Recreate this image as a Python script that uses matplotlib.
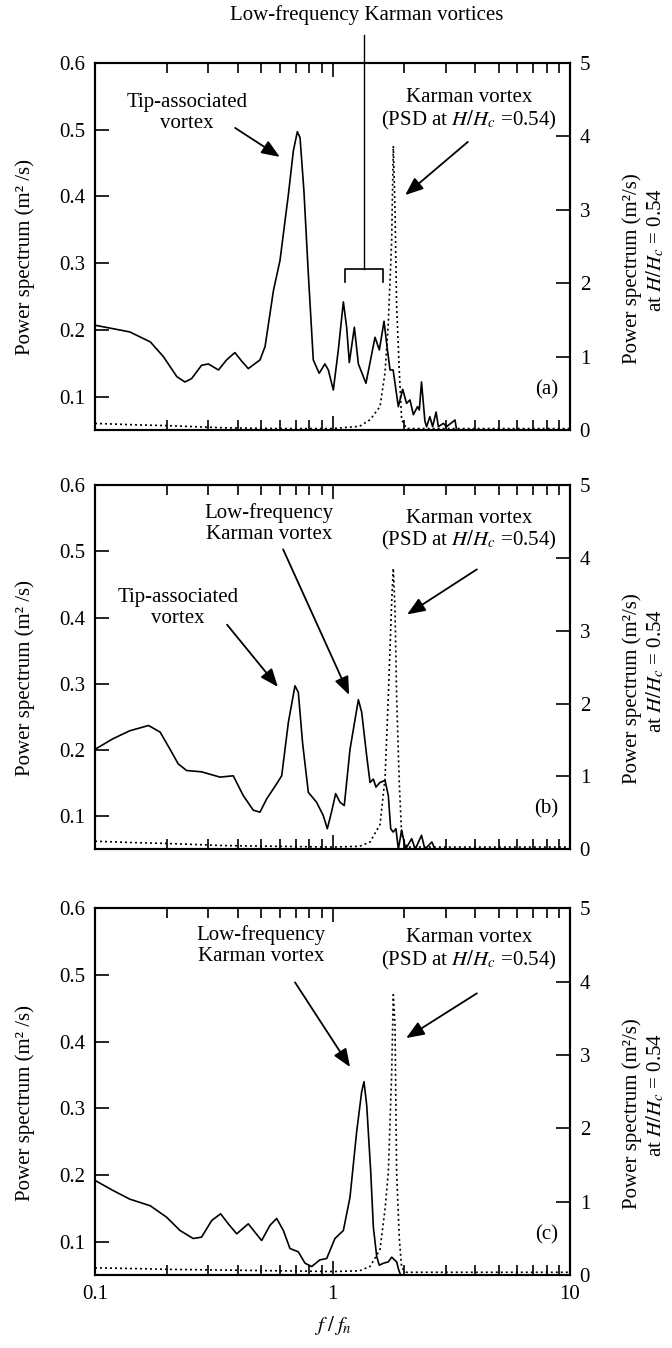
import matplotlib.pyplot as plt

plt.rcParams['font.family'] = ['Liberation Serif', 'DejaVu Serif']
plt.rcParams['mathtext.fontset'] = 'stix'
plt.rcParams['font.size'] = 15

# Panel (a): measured spectrum (left axis)
fa = [0.100, 0.140, 0.171, 0.194, 0.221, 0.239, 0.255, 0.281, 0.300, 0.331,
      0.358, 0.388, 0.415, 0.442, 0.495, 0.520, 0.564, 0.601, 0.652, 0.684,
      0.711, 0.730, 0.758, 0.791, 0.830, 0.879, 0.929, 0.960, 1.008, 1.058,
      1.111, 1.147, 1.177, 1.236, 1.285, 1.383, 1.510, 1.575, 1.648, 1.703,
      1.747, 1.800, 1.893, 1.975, 2.050, 2.120, 2.190, 2.280, 2.320, 2.370,
      2.450, 2.490, 2.570, 2.640, 2.730, 2.790, 2.930, 3.020, 3.280, 3.330]
pa = [0.207, 0.197, 0.182, 0.160, 0.130, 0.122, 0.127, 0.147, 0.149, 0.140,
      0.155, 0.166, 0.153, 0.142, 0.155, 0.175, 0.259, 0.304, 0.403, 0.468,
      0.497, 0.488, 0.408, 0.284, 0.155, 0.135, 0.149, 0.140, 0.110, 0.170,
      0.242, 0.204, 0.151, 0.204, 0.149, 0.120, 0.189, 0.170, 0.213, 0.170,
      0.140, 0.140, 0.085, 0.111, 0.090, 0.095, 0.073, 0.085, 0.080, 0.122,
      0.063, 0.055, 0.070, 0.055, 0.077, 0.055, 0.060, 0.055, 0.065, 0.050]

# Panel (b)
fb = [0.100, 0.119, 0.140, 0.168, 0.188, 0.207, 0.224, 0.243, 0.281, 0.336,
      0.382, 0.421, 0.464, 0.495, 0.528, 0.582, 0.611, 0.652, 0.695, 0.718,
      0.748, 0.791, 0.857, 0.914, 0.951, 0.990, 1.031, 1.075, 1.121, 1.185,
      1.285, 1.327, 1.393, 1.439, 1.486, 1.524, 1.585, 1.664, 1.718, 1.758,
      1.800, 1.850, 1.893, 1.955, 2.030, 2.155, 2.230, 2.370, 2.450, 2.620,
      2.700, 2.820]
pb = [0.201, 0.217, 0.229, 0.237, 0.227, 0.201, 0.179, 0.169, 0.167, 0.159,
      0.161, 0.131, 0.109, 0.106, 0.126, 0.149, 0.161, 0.242, 0.297, 0.287,
      0.211, 0.136, 0.121, 0.101, 0.081, 0.106, 0.134, 0.121, 0.116, 0.201,
      0.276, 0.257, 0.191, 0.151, 0.156, 0.144, 0.151, 0.154, 0.131, 0.081,
      0.076, 0.081, 0.050, 0.079, 0.050, 0.066, 0.050, 0.071, 0.050, 0.061,
      0.050, 0.050]

# Panel (c)
fc = [0.100, 0.119, 0.140, 0.171, 0.200, 0.228, 0.259, 0.281, 0.310, 0.338,
      0.364, 0.395, 0.442, 0.470, 0.503, 0.546, 0.582, 0.621, 0.662, 0.718,
      0.766, 0.817, 0.885, 0.945, 1.024, 1.111, 1.185, 1.264, 1.327, 1.357,
      1.393, 1.448, 1.486, 1.535, 1.574, 1.640, 1.718, 1.775, 1.862, 1.900,
      1.936, 2.050, 3.000]
pc = [0.192, 0.177, 0.164, 0.154, 0.137, 0.117, 0.105, 0.107, 0.132, 0.142,
      0.127, 0.112, 0.127, 0.115, 0.102, 0.125, 0.135, 0.117, 0.090, 0.085,
      0.068, 0.063, 0.073, 0.075, 0.105, 0.117, 0.167, 0.265, 0.325, 0.340,
      0.305, 0.206, 0.122, 0.078, 0.065, 0.068, 0.070, 0.077, 0.070, 0.058,
      0.050, 0.050, 0.050]

# Karman vortex PSD at H/Hc = 0.54 (right axis)
fk = [0.100, 0.150, 0.200, 0.350, 0.600, 1.000, 1.300, 1.440, 1.585, 1.664,
      1.718, 1.775, 1.803, 1.833, 1.862, 1.911, 1.955, 2.050, 3.000, 10.00]
pk_a = [0.09, 0.07, 0.06, 0.03, 0.02, 0.02, 0.05, 0.14, 0.32, 0.78,
        1.46, 2.59, 3.87, 3.00, 1.70, 0.80, 0.14, 0.02, 0.02, 0.02]
pk_b = [0.11, 0.09, 0.08, 0.05, 0.04, 0.03, 0.04, 0.10, 0.34, 0.97,
        2.10, 3.40, 3.86, 3.30, 2.10, 0.90, 0.20, 0.03, 0.03, 0.03]
pk_c = [0.10, 0.09, 0.08, 0.07, 0.06, 0.05, 0.06, 0.12, 0.35, 0.90,
        1.40, 2.76, 3.82, 3.40, 1.40, 0.50, 0.10, 0.04, 0.04, 0.04]

panels = [(fa, pa, pk_a, '(a)'), (fb, pb, pk_b, '(b)'), (fc, pc, pk_c, '(c)')]
rects = [(0.1414, 0.681, 0.7068, 0.2723),
         (0.1414, 0.370, 0.7068, 0.2700),
         (0.1414, 0.054, 0.7068, 0.2723)]

fig = plt.figure(figsize=(6.72, 13.48), dpi=100)
axes = []
for i, ((f, p, pk, tag), rect) in enumerate(zip(panels, rects)):
    ax = fig.add_axes(rect)
    ax.plot(f, p, color='black', lw=1.2)
    ax.set_xscale('log')
    ax.set_xlim(0.1, 10)
    ax.set_ylim(0.05, 0.6)
    ax.set_yticks([0.1, 0.2, 0.3, 0.4, 0.5, 0.6])
    ax.set_yticklabels(['0.1', '0.2', '0.3', '0.4', '0.5', '0.6'])
    ax.tick_params(which='major', direction='in', top=True, length=10, width=1.2,
                   labelsize=15, pad=7)
    ax.tick_params(which='minor', direction='in', top=True, length=7, width=1.2)
    ax.tick_params(axis='x', which='minor', labelbottom=False)
    if i < 2:
        ax.tick_params(axis='x', which='both', labelbottom=False)
    else:
        ax.set_xticks([0.1, 1, 10])
        ax.set_xticklabels(['0.1', '1', '10'])
        ax.set_xlabel('$f\\;/\\;f_n$', fontsize=15, labelpad=7)
    ax.text(-0.148, 0.47, 'Power spectrum (m² /s)', transform=ax.transAxes,
            rotation=90, ha='center', va='center')

    ax2 = ax.twinx()
    ax2.plot(fk, pk, color='black', lw=1.2, linestyle=(0, (1.2, 1.8)))
    ax2.set_ylim(0, 5)
    ax2.set_yticks([0, 1, 2, 3, 4, 5])
    ax2.tick_params(direction='in', length=10, width=1.2, labelsize=15, pad=7)
    ax2.text(1.13, 0.44, 'Power spectrum (m²/s)', transform=ax2.transAxes,
             rotation=90, ha='center', va='center')
    ax2.text(1.18, 0.49, 'at $H/H_c$ = 0.54', transform=ax2.transAxes,
             rotation=90, ha='center', va='center')
    for a in (ax, ax2):
        for s in a.spines.values():
            s.set_linewidth(1.5)

    ax.text(0.975, 0.11, tag, transform=ax.transAxes, ha='right', va='center')
    ax.text(0.787, 0.872 if i == 0 else (0.876 if i == 1 else 0.886),
            'Karman vortex\n(PSD at $H/H_c$ =0.54)', transform=ax.transAxes,
            ha='center', va='center', linespacing=1.1)
    axes.append(ax)

arrow = dict(arrowstyle='-|>,head_length=0.55,head_width=0.22', lw=1.3,
             color='black', shrinkA=0, shrinkB=0, mutation_scale=20)


def arr(ax, tail, head):
    ax.annotate('', xy=head, xytext=tail, xycoords='axes fraction',
                textcoords='axes fraction', arrowprops=arrow)


ax_a, ax_b, ax_c = axes

# (a)
ax_a.text(0.194, 0.864, 'Tip-associated\nvortex', transform=ax_a.transAxes,
          ha='center', va='center', linespacing=1.15)
arr(ax_a, (0.295, 0.823), (0.389, 0.744))
arr(ax_a, (0.785, 0.785), (0.653, 0.640))
ax_a.plot([0.526, 0.526, 0.606, 0.606], [0.403, 0.439, 0.439, 0.403],
          color='black', lw=1.2, transform=ax_a.transAxes, clip_on=False)
ax_a.plot([0.566, 0.566], [0.439, 1.076], color='black', lw=1.0,
          transform=ax_a.transAxes, clip_on=False)
ax_a.text(0.571, 1.131, 'Low-frequency Karman vortices', transform=ax_a.transAxes,
          ha='center', va='center')

# (b)
ax_b.text(0.366, 0.895, 'Low-frequency\nKarman vortex', transform=ax_b.transAxes,
          ha='center', va='center', linespacing=1.15)
arr(ax_b, (0.396, 0.824), (0.535, 0.424))
ax_b.text(0.175, 0.664, 'Tip-associated\nvortex', transform=ax_b.transAxes,
          ha='center', va='center', linespacing=1.15)
arr(ax_b, (0.278, 0.617), (0.385, 0.446))
arr(ax_b, (0.804, 0.769), (0.657, 0.645))

# (c)
ax_c.text(0.349, 0.899, 'Low-frequency\nKarman vortex', transform=ax_c.transAxes,
          ha='center', va='center', linespacing=1.15)
arr(ax_c, (0.421, 0.798), (0.537, 0.567))
arr(ax_c, (0.804, 0.768), (0.655, 0.646))

fig.savefig('out.png', dpi=100)
